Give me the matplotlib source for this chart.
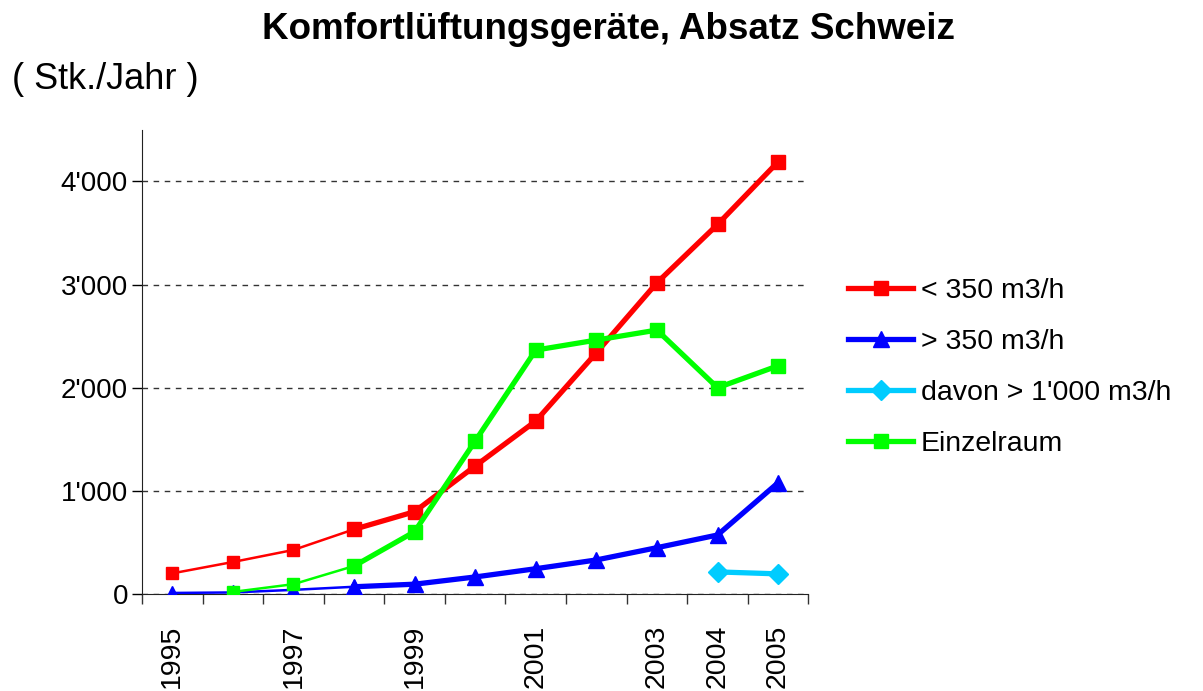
import matplotlib
matplotlib.use("Agg")
import matplotlib.pyplot as plt
from matplotlib.ticker import FuncFormatter, MultipleLocator
import numpy as np

plt.rcParams['font.family'] = ['Liberation Sans', 'DejaVu Sans']

years = ["1995", "1996", "1997", "1998", "1999", "2000", "2001", "2002", "2003", "2004", "2005"]
year_labels = ["1995", "", "1997", "", "1999", "", "2001", "", "2003", "2004", "2005"]

small = [200, 310, 427, 627, 798, 1241, 1677, 2339, 3018, 3583, 4191]          # < 350 m3/h
large = [10, 15, 40, 70, 95, 165, 245, 330, 449, 572, 1079]                     # > 350 m3/h
very_large = [np.nan] * 9 + [214, 195]                                          # davon > 1'000 m3/h
einzelraum = [np.nan, 20, 95, 271, 604, 1483, 2365, 2462, 2559, 2000, 2213]

series = [
    ("< 350 m3/h", small, "#ff0000", "s", 10),
    ("> 350 m3/h", large, "#0000ff", "^", 12),
    ("davon > 1'000 m3/h", very_large, "#00ccff", "D", 10),
    ("Einzelraum", einzelraum, "#00ff00", "s", 10),
]

fig = plt.figure(figsize=(12.03, 6.91), dpi=100)
ax = fig.add_axes([0.118, 0.1404, 0.554, 0.6716])

x = np.arange(len(years))
split = 3
for name, vals, col, mk, ms in series:
    v = np.array(vals, dtype=float)
    # early part drawn thinner, like the original
    ax.plot(x[:split + 1], v[:split + 1], color=col, lw=1.8, marker=mk, ms=ms * 0.8,
            markeredgecolor=col, zorder=3)
    ax.plot(x[split:], v[split:], color=col, lw=3.8, marker=mk, ms=ms,
            markeredgecolor=col, zorder=3, label=name)

ax.set_xlim(-0.5, len(years) - 0.5)
ax.set_ylim(0, 4500)
ax.yaxis.set_major_locator(MultipleLocator(1000))
ax.yaxis.set_major_formatter(FuncFormatter(lambda v, p: f"{int(v):,}".replace(",", "'")))
ax.set_xticks(x)
ax.set_xticklabels(year_labels, rotation=90, fontsize=20.5)
ax.set_xticks(np.arange(-0.5, len(years)), minor=True)
ax.tick_params(axis='x', which='major', length=0, pad=22)
ax.tick_params(axis='x', which='minor', length=7, width=1, color='#333333')
ax.tick_params(axis='y', labelsize=20, length=7, width=1, direction='out', pad=3)

ax.grid(axis='y', linestyle=(0, (4, 4)), color='#333333', lw=1)
for s in ['top', 'right']:
    ax.spines[s].set_visible(False)
ax.spines['left'].set_color('#222222')
ax.spines['bottom'].set_color('#222222')

fig.text(0.506, 0.958, "Komfortlüftungsgeräte, Absatz Schweiz", ha='center', va='center',
         fontsize=26.5, fontweight='bold')
fig.text(0.01, 0.885, "( Stk./Jahr )", ha='left', va='center', fontsize=26)

handles, labels = ax.get_legend_handles_labels()
fig.legend(handles, labels, loc='upper left', bbox_to_anchor=(0.684, 0.635), frameon=False,
           fontsize=20.5, handlelength=2.25, handletextpad=0.3, labelspacing=0.88)

fig.savefig("out.png", dpi=100)
